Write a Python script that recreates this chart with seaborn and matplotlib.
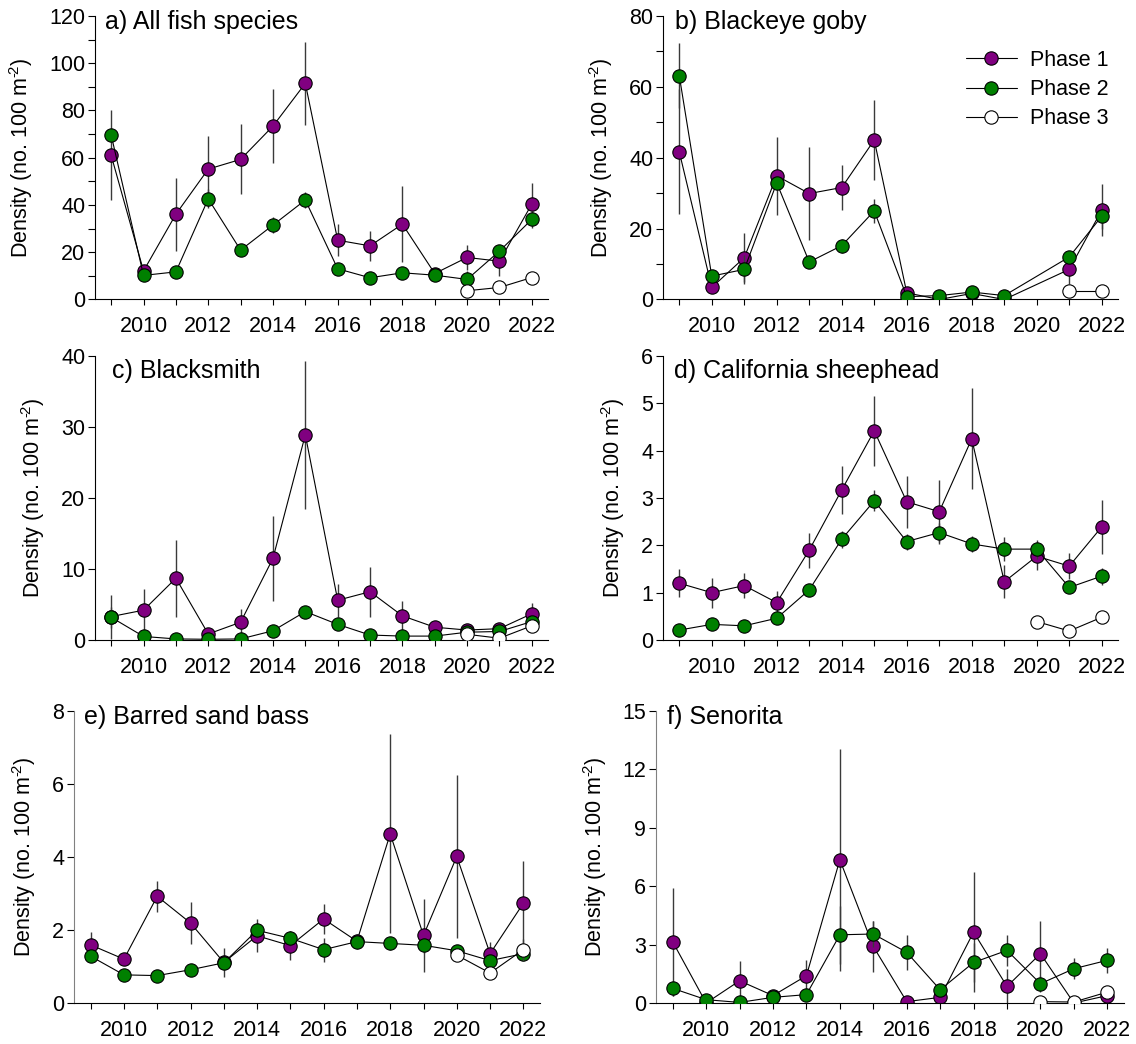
import numpy as np
import pandas as pd
import matplotlib
matplotlib.use("Agg")
import matplotlib.pyplot as plt
import seaborn as sns
from matplotlib.ticker import MultipleLocator

nan = np.nan
years = list(range(2009, 2023))
years_p3 = [2020, 2021, 2022]

# ---- a) All fish species ----
a_p1 = [61.0, 12.1, 36.1, 55.2, 59.3, 73.4, 91.5, 25.1, 22.7, 31.9, 11.0, 17.8, 16.2, 40.4]
a_p1_se = [19.0, 1.5, 15.5, 14.0, 14.8, 15.8, 17.7, 6.8, 6.5, 16.0, 1.2, 5.3, 6.3, 9.0]
a_p2 = [69.6, 10.2, 11.7, 42.6, 20.9, 31.5, 42.1, 13.0, 9.2, 11.3, 10.3, 8.5, 20.5, 33.9]
a_p2_se = [3.0, 1.2, 1.2, 4.0, 1.5, 3.5, 3.5, 1.5, 1.0, 1.2, 1.0, 3.5, 2.0, 3.5]
a_p3 = [3.7, 5.1, 9.3]
a_p3_se = [0.8, 1.0, 1.5]

# ---- b) Blackeye goby ----
b_p1 = [41.7, 3.4, 11.8, 34.9, 29.9, 31.6, 45.0, 1.9, 0.0, 1.7, 0.0, nan, 8.5, 25.2]
b_p1_se = [17.7, 1.5, 7.0, 11.0, 13.2, 6.3, 11.3, 0.8, 0.2, 0.6, 0.2, nan, 4.0, 7.3]
b_p2 = [63.2, 6.6, 8.5, 32.9, 10.6, 15.2, 25.0, 0.8, 1.1, 2.1, 1.1, nan, 12.0, 23.5]
b_p2_se = [9.3, 1.5, 4.0, 2.0, 1.2, 2.0, 3.5, 0.4, 0.4, 0.5, 0.4, nan, 1.5, 3.5]
b_p3 = [nan, 2.4, 2.4]
b_p3_se = [nan, 0.4, 0.4]

# ---- c) Blacksmith ----
c_p1 = [3.3, 4.2, 8.7, 0.85, 2.5, 11.5, 28.9, 5.6, 6.8, 3.4, 1.8, 1.4, 1.6, 3.7]
c_p1_se = [3.1, 3.0, 5.4, 0.4, 1.8, 6.0, 10.4, 2.3, 3.5, 2.1, 0.6, 0.4, 0.4, 1.5]
c_p2 = [3.2, 0.5, 0.15, 0.1, 0.15, 1.3, 4.0, 2.2, 0.7, 0.55, 0.55, 1.1, 1.2, 2.6]
c_p2_se = [1.5, 0.3, 0.1, 0.1, 0.1, 0.4, 0.6, 0.5, 0.3, 0.2, 0.2, 0.3, 0.3, 0.6]
c_p3 = [0.8, 0.25, 2.0]
c_p3_se = [0.3, 0.1, 0.5]

# ---- d) California sheephead ----
d_p1 = [1.2, 1.0, 1.15, 0.79, 1.9, 3.17, 4.42, 2.92, 2.71, 4.25, 1.23, 1.77, 1.56, 2.39]
d_p1_se = [0.3, 0.32, 0.27, 0.25, 0.37, 0.51, 0.74, 0.55, 0.68, 1.07, 0.35, 0.3, 0.28, 0.57]
d_p2 = [0.21, 0.33, 0.3, 0.46, 1.06, 2.13, 2.94, 2.08, 2.27, 2.03, 1.92, 1.92, 1.11, 1.35]
d_p2_se = [0.05, 0.06, 0.05, 0.08, 0.1, 0.18, 0.22, 0.17, 0.2, 0.17, 0.25, 0.2, 0.1, 0.18]
d_p3 = [0.39, 0.19, 0.48]
d_p3_se = [0.05, 0.04, 0.05]

# ---- e) Barred sand bass ----
e_p1 = [1.59, 1.2, 2.92, 2.19, 1.11, 1.84, 1.57, 2.3, 1.69, 4.63, 1.85, 4.01, 1.35, 2.73]
e_p1_se = [0.36, 0.15, 0.43, 0.57, 0.4, 0.45, 0.4, 0.4, 0.2, 2.72, 1.0, 2.22, 0.33, 1.17]
e_p2 = [1.28, 0.77, 0.75, 0.91, 1.1, 1.99, 1.77, 1.46, 1.68, 1.63, 1.58, 1.43, 1.16, 1.35]
e_p2_se = [0.1, 0.08, 0.08, 0.08, 0.15, 0.2, 0.2, 0.33, 0.15, 0.18, 0.2, 0.15, 0.15, 0.2]
e_p3 = [1.31, 0.82, 1.46]
e_p3_se = [0.15, 0.1, 0.3]

# ---- f) Senorita ----
f_p1 = [3.14, 0.0, 1.14, 0.38, 1.4, 7.35, 2.9, 0.07, 0.29, 3.64, 0.85, 2.53, 0.0, 0.38]
f_p1_se = [2.76, 0.05, 1.0, 0.2, 0.8, 5.7, 1.3, 0.05, 0.2, 3.1, 0.9, 1.7, 0.05, 0.15]
f_p2 = [0.75, 0.17, 0.03, 0.29, 0.43, 3.5, 3.54, 2.6, 0.68, 2.08, 2.7, 0.99, 1.76, 2.19]
f_p2_se = [0.4, 0.1, 0.05, 0.15, 0.3, 1.5, 0.65, 0.9, 0.3, 1.0, 0.8, 0.4, 0.55, 0.65]
f_p3 = [0.07, 0.05, 0.56]
f_p3_se = [0.05, 0.05, 0.2]

titles = ["a) All fish species", "b) Blackeye goby", "c) Blacksmith",
          "d) California sheephead", "e) Barred sand bass", "f) Senorita"]
phase_labels = ["Phase 1", "Phase 2", "Phase 3"]
ylims = [120, 80, 40, 6, 8, 15]
ymajor = [20, 20, 10, 1, 2, 3]

series = [
    [(a_p1, a_p1_se), (a_p2, a_p2_se), (a_p3, a_p3_se)],
    [(b_p1, b_p1_se), (b_p2, b_p2_se), (b_p3, b_p3_se)],
    [(c_p1, c_p1_se), (c_p2, c_p2_se), (c_p3, c_p3_se)],
    [(d_p1, d_p1_se), (d_p2, d_p2_se), (d_p3, d_p3_se)],
    [(e_p1, e_p1_se), (e_p2, e_p2_se), (e_p3, e_p3_se)],
    [(f_p1, f_p1_se), (f_p2, f_p2_se), (f_p3, f_p3_se)],
]

sns.set_style("ticks")
plt.rcParams["font.family"] = ["Liberation Sans", "DejaVu Sans"]
plt.rcParams["mathtext.fontset"] = "custom"
plt.rcParams["mathtext.rm"] = "Liberation Sans"
plt.rcParams["mathtext.it"] = "Liberation Sans"
for key in ["text.color", "axes.labelcolor", "xtick.color", "ytick.color"]:
    plt.rcParams[key] = "black"

W, H = 1136, 1044
fig = plt.figure(figsize=(W / 100, H / 100), dpi=100)

def rect(l, r, t, b):
    return [l / W, 1 - b / H, (r - l) / W, (b - t) / H]

rects = [rect(95, 548, 16, 299.5), rect(663, 1118, 16, 299.5),
         rect(95, 548, 356, 640), rect(663, 1118, 356, 640),
         rect(74, 540, 710.7, 1003), rect(656, 1124, 710.7, 1003)]
title_off = [(10, -6), (12, -6), (17, -15), (11, -15), (10, -6), (11, -6)]

face = ["#800080", "#008000", "white"]

for i in range(6):
    ax = fig.add_axes(rects[i])
    for k, (vals, se) in enumerate(series[i]):
        xs = years if k < 2 else years_p3
        df = pd.DataFrame({"year": xs, "density": vals, "se": se}).dropna()
        ax.errorbar(df["year"], df["density"], yerr=df["se"], fmt="none",
                    ecolor="#3a3a3a", elinewidth=1.0, capsize=0, zorder=1 + k)
        sns.lineplot(data=df, x="year", y="density", ax=ax, estimator=None,
                     color="black", linewidth=0.8, marker="o", markersize=9.6,
                     markerfacecolor=face[k], markeredgecolor="black",
                     markeredgewidth=0.8, zorder=2 + k,
                     label=phase_labels[k] if i == 1 else None)
    ax.set_xlim(2008.5, 2022.5)
    ax.set_ylim(0, ylims[i])
    ax.set_xticks(years)
    ax.set_xticklabels([str(y) if y % 2 == 0 else "" for y in years])
    ax.yaxis.set_major_locator(MultipleLocator(ymajor[i]))
    if i < 2:
        ax.yaxis.set_minor_locator(MultipleLocator(10))
    ax.tick_params(axis="both", which="both", direction="out", color="black",
                   width=0.8, labelsize=15.5)
    ax.tick_params(axis="x", length=4, pad=8)
    ax.tick_params(axis="y", which="major", length=5, pad=2)
    ax.tick_params(axis="y", which="minor", length=5)
    for s in ["top", "right"]:
        ax.spines[s].set_visible(False)
    for s in ["left", "bottom"]:
        ax.spines[s].set_linewidth(0.8)
        ax.spines[s].set_color("black")
    if i >= 4:
        ax.spines["left"].set_color("#808080")
    ax.set_xlabel("")
    ax.set_ylabel("Density (no. 100 m$^{\u2010\\!2}$)", fontsize=15.5, labelpad=10)
    ax.annotate(titles[i], xy=(0, 1), xycoords="axes fraction",
                xytext=title_off[i], textcoords="offset pixels",
                ha="left", va="center", fontsize=18)
    if i == 1:
        ax.legend(loc="upper left", bbox_to_anchor=(966 / W, 1 - 50 / H),
                  bbox_transform=fig.transFigure, frameon=False, fontsize=15.5,
                  handlelength=2.35, handletextpad=0.6, labelspacing=0.38,
                  borderpad=0, borderaxespad=0)
    else:
        leg = ax.get_legend()
        if leg is not None:
            leg.remove()

fig.savefig("out.png", dpi=100)
